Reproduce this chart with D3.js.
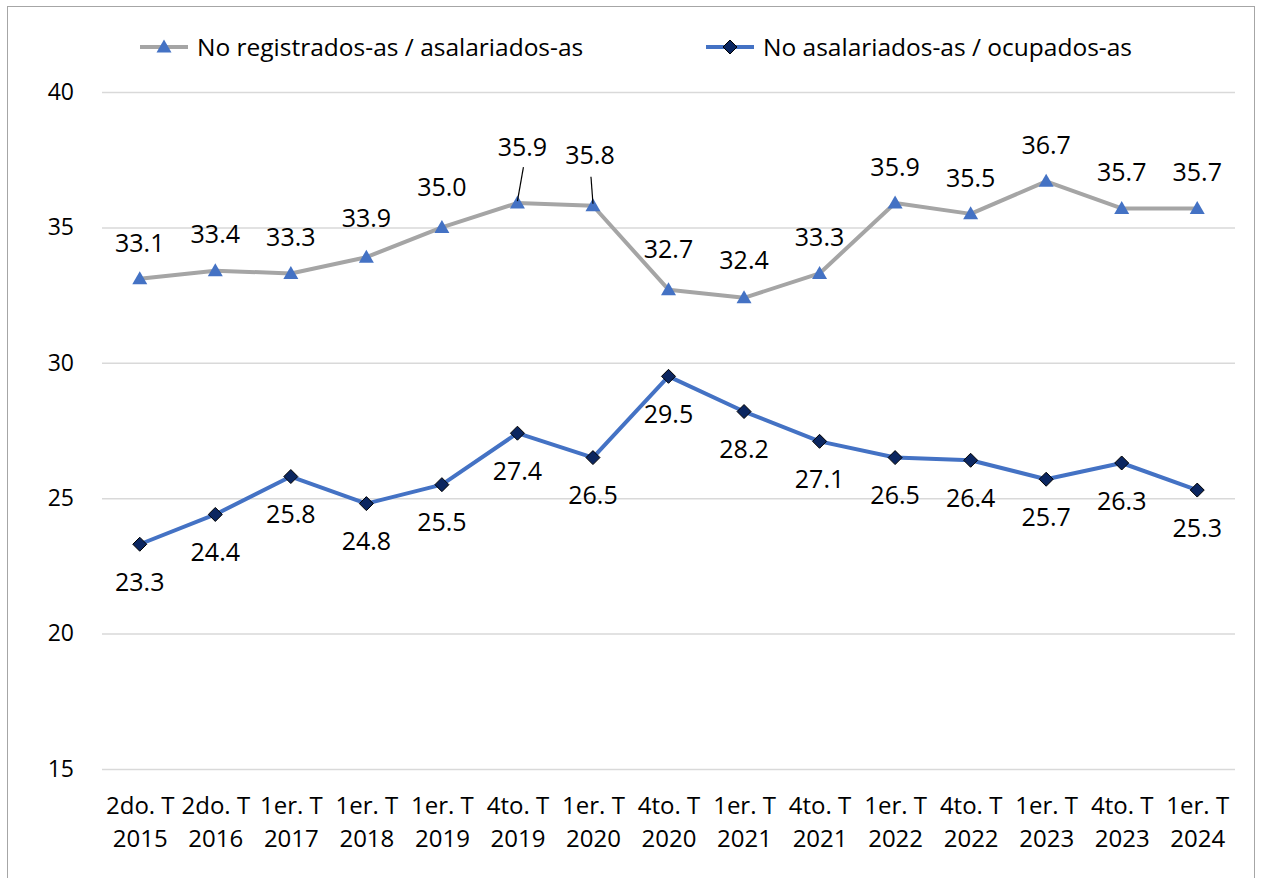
<!DOCTYPE html>
<html>
<head>
<meta charset="utf-8">
<script src="https://cdn.jsdelivr.net/npm/d3@7"></script>
<style>
  html, body { margin: 0; padding: 0; background: #fff; }
  svg { display: block; }
  text { font-family: "Open Sans", sans-serif; fill: #000; }
</style>
</head>
<body>
<svg id="chart" width="1261" height="878"></svg>
<script>
// ---- data ----
const quarters = ["2do. T", "2do. T", "1er. T", "1er. T", "1er. T", "4to. T", "1er. T", "4to. T", "1er. T", "4to. T", "1er. T", "4to. T", "1er. T", "4to. T", "1er. T"];
const years = ["2015", "2016", "2017", "2018", "2019", "2019", "2020", "2020", "2021", "2021", "2022", "2022", "2023", "2023", "2024"];
const seriesNames = ["No registrados-as / asalariados-as", "No asalariados-as / ocupados-as"];
const noRegistrados = [33.1, 33.4, 33.3, 33.9, 35.0, 35.9, 35.8, 32.7, 32.4, 33.3, 35.9, 35.5, 36.7, 35.7, 35.7];
const noAsalariados = [23.3, 24.4, 25.8, 24.8, 25.5, 27.4, 26.5, 29.5, 28.2, 27.1, 26.5, 26.4, 25.7, 26.3, 25.3];
const yTicks = [15, 20, 25, 30, 35, 40];

// label placement tweaks (layout only): extra vertical shift for the moved labels with leader lines
const grayLabelShift = [0, 0, 0, -3, -4, -20, -14, -4, -2, 0, 0, 0, 0, 0, 0];
const grayLabelDx = [0, 0, 0, 0, 0, 5, -3, 0, 0, 0, 0, 0, 0, 0, 0];

const cats = quarters.map((q, i) => i);

const svg = d3.select("#chart");
const W = 1261, H = 878;
const margin = { left: 102, right: 26, top: 92, bottom: 109 };

// frame
svg.append("rect")
  .attr("x", 7.5).attr("y", 6.5)
  .attr("width", 1247).attr("height", 900)
  .attr("fill", "none").attr("stroke", "#a6a6a6").attr("stroke-width", 1);

const x = d3.scalePoint().domain(cats).range([margin.left, W - margin.right]).padding(0.5);
const y = d3.scaleLinear().domain([15, 40]).range([H - margin.bottom, margin.top]);

// gridlines
const yAxis = d3.axisLeft(y).tickValues(yTicks).tickSize(-(W - margin.right - margin.left)).tickPadding(28).tickFormat(d3.format("d"));
const gy = svg.append("g").attr("transform", `translate(${margin.left},0)`).call(yAxis);
gy.select(".domain").remove();
gy.selectAll(".tick line").attr("stroke", "#d9d9d9").attr("stroke-width", 1.5);
gy.selectAll(".tick text").attr("font-size", 23).attr("fill", "#000").style("font-family", "'Open Sans', sans-serif");

// x axis labels (two lines)
const xAxis = d3.axisBottom(x).tickSize(0).tickFormat(() => "");
const gx = svg.append("g").attr("transform", `translate(0,${y(15)})`).call(xAxis);
gx.select(".domain").remove();
gx.selectAll(".tick").each(function(d) {
  const t = d3.select(this).append("text").attr("text-anchor", "middle").attr("font-size", 24);
  t.append("tspan").attr("x", 0).attr("y", 45).text(quarters[d]);
  t.append("tspan").attr("x", 0).attr("y", 78).text(years[d]);
});

// lines
const lineGen = d3.line().x((d, i) => x(i)).y(d => y(d));
svg.append("path").datum(noRegistrados).attr("d", lineGen)
  .attr("fill", "none").attr("stroke", "#a5a5a5").attr("stroke-width", 4).attr("stroke-linejoin", "round");
svg.append("path").datum(noAsalariados).attr("d", lineGen)
  .attr("fill", "none").attr("stroke", "#4472c4").attr("stroke-width", 4).attr("stroke-linejoin", "round");

// markers
const tri = "M0,-7.5L7.5,5.5L-7.5,5.5Z";
const dia = "M0,-7L7,0L0,7L-7,0Z";
svg.append("g").selectAll("path").data(noRegistrados).join("path")
  .attr("d", tri).attr("transform", (d, i) => `translate(${x(i)},${y(d)})`)
  .attr("fill", "#4472c4");
svg.append("g").selectAll("path").data(noAsalariados).join("path")
  .attr("d", dia).attr("transform", (d, i) => `translate(${x(i)},${y(d)})`)
  .attr("fill", "#0b2660").attr("stroke", "#000").attr("stroke-width", 1);

// leader lines for moved labels
[5, 6].forEach(i => {
  const px = x(i), py = y(noRegistrados[i]);
  svg.append("line")
    .attr("x1", px).attr("y1", py - 2)
    .attr("x2", px + (i === 5 ? 6 : -2)).attr("y2", py + (i === 5 ? -36 : -29))
    .attr("stroke", "#000").attr("stroke-width", 1.2);
});

// data labels
svg.append("g").selectAll("text").data(noRegistrados).join("text")
  .attr("x", (d, i) => x(i) + grayLabelDx[i])
  .attr("y", (d, i) => y(d) - 36 + grayLabelShift[i])
  .attr("dy", "0.35em")
  .attr("text-anchor", "middle").attr("font-size", 25)
  .text(d => d.toFixed(1));
svg.append("g").selectAll("text").data(noAsalariados).join("text")
  .attr("x", (d, i) => x(i))
  .attr("y", d => y(d) + 38)
  .attr("dy", "0.35em")
  .attr("text-anchor", "middle").attr("font-size", 25)
  .text(d => d.toFixed(1));

// legend
const legend = svg.append("g");
const leg = [
  { x: 140, color: "#a5a5a5", marker: tri, mfill: "#4472c4", mstroke: "none" },
  { x: 706, color: "#4472c4", marker: dia, mfill: "#0b2660", mstroke: "#000" }
];
leg.forEach((l, i) => {
  const g = legend.append("g").attr("transform", `translate(${l.x},47)`);
  g.append("line").attr("x1", 0).attr("x2", 48).attr("y1", 0).attr("y2", 0)
    .attr("stroke", l.color).attr("stroke-width", 4);
  g.append("path").attr("d", l.marker).attr("transform", "translate(24,0)")
    .attr("fill", l.mfill).attr("stroke", l.mstroke).attr("stroke-width", 1);
  g.append("text").attr("x", 57).attr("y", 0).attr("dy", "0.35em")
    .attr("font-size", 24.5).text(seriesNames[i]);
});
</script>
</body>
</html>
